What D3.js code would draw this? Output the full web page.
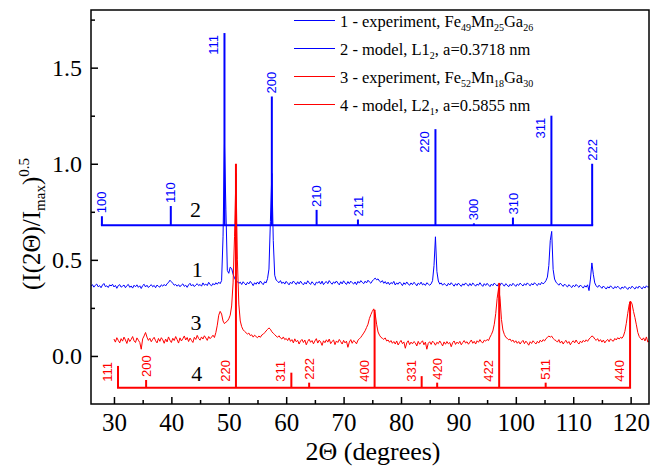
<!DOCTYPE html>
<html>
<head>
<meta charset="utf-8">
<script src="https://cdn.jsdelivr.net/npm/d3@7"></script>
<style>
  body { margin: 0; background: #fff; }
  svg { display: block; }
</style>
</head>
<body>
<div id="chart"></div>
<script>
//
// DATA
//
// experimental scans, one value every 0.25 deg of 2Theta
const scanStep = 0.25
const blueStart = 26
const blueScan = [
    0.362, 0.371, 0.358, 0.368, 0.374, 0.360, 0.366, 0.355, 0.369, 0.377, 0.361, 0.365,
    0.356, 0.370, 0.364, 0.373, 0.359, 0.367, 0.352, 0.366, 0.371, 0.358, 0.363, 0.369,
    0.355, 0.366, 0.372, 0.357, 0.364, 0.353, 0.368, 0.360, 0.370, 0.357, 0.365, 0.351,
    0.366, 0.373, 0.359, 0.368, 0.356, 0.364, 0.371, 0.360, 0.367, 0.355, 0.369, 0.362,
    0.358, 0.370, 0.363, 0.372, 0.364, 0.376, 0.382, 0.394, 0.386, 0.378, 0.368, 0.372,
    0.363, 0.371, 0.360, 0.369, 0.375, 0.362, 0.368, 0.357, 0.370, 0.378, 0.364, 0.372,
    0.361, 0.369, 0.376, 0.366, 0.372, 0.363, 0.380, 0.368, 0.374, 0.366, 0.383, 0.371,
    0.365, 0.377, 0.369, 0.381, 0.373, 0.384, 0.376, 0.392, 0.620, 1.100, 0.760, 0.445,
    0.430, 0.462, 0.455, 0.425, 0.405, 0.392, 0.387, 0.378, 0.384, 0.372, 0.386, 0.377,
    0.369, 0.383, 0.375, 0.388, 0.378, 0.366, 0.381, 0.373, 0.385, 0.374, 0.390, 0.379,
    0.371, 0.386, 0.380, 0.402, 0.452, 0.700, 0.950, 0.600, 0.420, 0.395, 0.388, 0.381,
    0.392, 0.377, 0.385, 0.374, 0.388, 0.379, 0.370, 0.384, 0.376, 0.390, 0.381, 0.372,
    0.386, 0.375, 0.389, 0.378, 0.370, 0.383, 0.374, 0.391, 0.380, 0.372, 0.386, 0.377,
    0.368, 0.384, 0.379, 0.388, 0.374, 0.389, 0.371, 0.382, 0.387, 0.376, 0.392, 0.381,
    0.373, 0.385, 0.378, 0.390, 0.379, 0.370, 0.386, 0.375, 0.391, 0.380, 0.372, 0.387,
    0.376, 0.389, 0.381, 0.374, 0.385, 0.371, 0.388, 0.379, 0.392, 0.383, 0.376, 0.389,
    0.380, 0.394, 0.385, 0.378, 0.390, 0.398, 0.405, 0.396, 0.401, 0.389, 0.383, 0.392,
    0.378, 0.387, 0.374, 0.384, 0.371, 0.382, 0.376, 0.388, 0.369, 0.380, 0.373, 0.385,
    0.377, 0.366, 0.381, 0.372, 0.385, 0.374, 0.368, 0.380, 0.371, 0.383, 0.376, 0.365,
    0.379, 0.372, 0.384, 0.370, 0.376, 0.367, 0.381, 0.374, 0.368, 0.375, 0.392, 0.470,
    0.620, 0.440, 0.390, 0.374, 0.380, 0.368, 0.377, 0.371, 0.364, 0.378, 0.369, 0.381,
    0.372, 0.363, 0.376, 0.367, 0.379, 0.370, 0.362, 0.375, 0.368, 0.380, 0.371, 0.364,
    0.377, 0.366, 0.379, 0.372, 0.363, 0.374, 0.368, 0.381, 0.370, 0.362, 0.376, 0.367,
    0.378, 0.369, 0.361, 0.374, 0.366, 0.379, 0.371, 0.364, 0.375, 0.367, 0.380, 0.372,
    0.363, 0.376, 0.369, 0.360, 0.373, 0.365, 0.378, 0.370, 0.362, 0.374, 0.367, 0.379,
    0.371, 0.364, 0.376, 0.368, 0.380, 0.372, 0.365, 0.377, 0.369, 0.381, 0.373, 0.366,
    0.378, 0.370, 0.383, 0.375, 0.381, 0.392, 0.410, 0.470, 0.600, 0.648, 0.450, 0.400,
    0.384, 0.376, 0.368, 0.379, 0.370, 0.362, 0.374, 0.366, 0.359, 0.371, 0.363, 0.356,
    0.368, 0.360, 0.372, 0.364, 0.357, 0.369, 0.361, 0.353, 0.366, 0.358, 0.370, 0.340,
    0.400, 0.484, 0.425, 0.380, 0.365, 0.357, 0.368, 0.360, 0.352, 0.364, 0.356, 0.348,
    0.360, 0.353, 0.365, 0.357, 0.349, 0.361, 0.354, 0.363, 0.355, 0.347, 0.359, 0.352,
    0.362, 0.354, 0.346, 0.358, 0.351, 0.363, 0.355, 0.348, 0.360, 0.352, 0.364, 0.356,
    0.349, 0.361, 0.353, 0.365, 0.357, 0.362
]
const redStart = 30
const redScan = [
    0.088, 0.072, 0.095, 0.081, 0.068, 0.090, 0.077, 0.098, 0.083, 0.065, 0.092, 0.075,
    0.086, 0.101, 0.079, 0.070, 0.094, 0.082, 0.070, 0.035, 0.089, 0.104, 0.122, 0.098,
    0.081, 0.092, 0.074, 0.087, 0.097, 0.079, 0.068, 0.091, 0.076, 0.095, 0.084, 0.066,
    0.088, 0.073, 0.099, 0.082, 0.070, 0.092, 0.080, 0.101, 0.085, 0.067, 0.094, 0.078,
    0.090, 0.104, 0.083, 0.096, 0.075, 0.093, 0.081, 0.070, 0.097, 0.086, 0.107, 0.091,
    0.082, 0.099, 0.088, 0.105, 0.094, 0.081, 0.101, 0.090, 0.098, 0.108, 0.096, 0.122,
    0.160, 0.212, 0.232, 0.218, 0.182, 0.168, 0.176, 0.181, 0.193, 0.212, 0.260, 0.380,
    0.620, 0.950, 0.500, 0.270, 0.182, 0.152, 0.136, 0.128, 0.121, 0.114, 0.119, 0.106,
    0.110, 0.098, 0.108, 0.101, 0.095, 0.104, 0.097, 0.109, 0.113, 0.121, 0.130, 0.138,
    0.146, 0.139, 0.126, 0.118, 0.111, 0.103, 0.097, 0.105, 0.094, 0.088, 0.099, 0.085,
    0.091, 0.080, 0.094, 0.076, 0.085, 0.068, 0.089, 0.074, 0.081, 0.062, 0.078, 0.086,
    0.070, 0.083, 0.058, 0.076, 0.087, 0.071, 0.080, 0.063, 0.078, 0.090, 0.067, 0.082,
    0.073, 0.055, 0.079, 0.069, 0.084, 0.072, 0.088, 0.064, 0.076, 0.083, 0.059, 0.078,
    0.070, 0.086, 0.074, 0.062, 0.081, 0.068, 0.077, 0.045, 0.072, 0.085, 0.066, 0.080,
    0.074, 0.063, 0.082, 0.089, 0.097, 0.108, 0.119, 0.131, 0.148, 0.165, 0.195, 0.215,
    0.232, 0.245, 0.220, 0.165, 0.125, 0.108, 0.097, 0.092, 0.086, 0.094, 0.078, 0.083,
    0.071, 0.080, 0.066, 0.075, 0.062, 0.078, 0.057, 0.070, 0.081, 0.064, 0.073, 0.040,
    0.068, 0.079, 0.059, 0.072, 0.063, 0.075, 0.068, 0.052, 0.076, 0.061, 0.070, 0.079,
    0.058, 0.072, 0.035, 0.066, 0.074, 0.060, 0.077, 0.069, 0.056, 0.071, 0.064, 0.078,
    0.066, 0.052, 0.073, 0.061, 0.075, 0.063, 0.070, 0.048, 0.069, 0.078, 0.060, 0.072,
    0.064, 0.076, 0.058, 0.070, 0.080, 0.067, 0.074, 0.061, 0.072, 0.083, 0.066, 0.076,
    0.062, 0.079, 0.071, 0.085, 0.073, 0.068, 0.082, 0.077, 0.086, 0.080, 0.098, 0.112,
    0.130, 0.165, 0.220, 0.300, 0.352, 0.300, 0.190, 0.135, 0.112, 0.097, 0.092, 0.084,
    0.088, 0.076, 0.083, 0.070, 0.079, 0.066, 0.075, 0.062, 0.073, 0.081, 0.064, 0.077,
    0.068, 0.056, 0.074, 0.065, 0.079, 0.070, 0.062, 0.076, 0.067, 0.082, 0.073, 0.085,
    0.078, 0.090, 0.096, 0.104, 0.098, 0.103, 0.091, 0.084, 0.080, 0.072, 0.085, 0.067,
    0.077, 0.062, 0.074, 0.081, 0.066, 0.075, 0.058, 0.071, 0.079, 0.068, 0.083, 0.070,
    0.062, 0.077, 0.069, 0.081, 0.073, 0.084, 0.076, 0.088, 0.095, 0.104, 0.100, 0.088,
    0.081, 0.090, 0.076, 0.085, 0.072, 0.083, 0.068, 0.079, 0.086, 0.074, 0.089, 0.080,
    0.077, 0.091, 0.083, 0.095, 0.088, 0.097, 0.092, 0.104, 0.128, 0.170, 0.222, 0.268,
    0.285, 0.270, 0.232, 0.200, 0.162, 0.122, 0.101, 0.090, 0.083, 0.094, 0.078, 0.099,
    0.072, 0.080
]

// model reflections: L1_2 (blue, curve 2) and L2_1 (red, curve 4)
const blueHkl = ['100', '110', '111', '200', '210', '211', '220', '300', '310', '311', '222']
const blueAngle = [27.9, 39.9, 49.25, 57.5, 65.3, 72.5, 86.0, 92.7, 99.5, 106.2, 113.3]
const blueAmp = [0.047, 0.10, 1.0, 0.67, 0.08, 0.03, 0.50, 0.01, 0.04, 0.57, 0.32]
const blueBase = 0.68
const redHkl = ['111', '200', '220', '311', '222', '400', '331', '420', '422', '511', '440']
const redAngle = [30.7, 35.6, 51.25, 60.9, 64.0, 75.4, 83.6, 86.3, 97.1, 105.2, 119.9]
const redAmp = [0.113, 0.04, 1.165, 0.078, 0.026, 0.405, 0.06, 0.026, 0.545, 0.026, 0.448]
const redBase = -0.165

// axes
const xMajor = [30, 40, 50, 60, 70, 80, 90, 100, 110, 120]
const xMinor = [35, 45, 55, 65, 75, 85, 95, 105, 115]
const yMajor = [0, 0.5, 1.0, 1.5]
const yMinor = [0.25, 0.75, 1.25, 1.75]

// legend entries, split in [text, isSubscript] runs
const legendColors = ['#0000ff', '#0000ff', '#ff0000', '#ff0000']
const legendRuns = [
    [['1 - experiment, Fe', 0], ['49', 1], ['Mn', 0], ['25', 1], ['Ga', 0], ['26', 1]],
    [['2 - model, L1', 0], ['2', 1], [', a=0.3718 nm', 0]],
    [['3 - experiment, Fe', 0], ['52', 1], ['Mn', 0], ['18', 1], ['Ga', 0], ['30', 1]],
    [['4 - model, L2', 0], ['1', 1], [', a=0.5855 nm', 0]],
]

//
// GLOBALS
//
const width = 654
const height = 468
const margin = { top: 10, right: 5, bottom: 64, left: 91 }
const serif = '"Liberation Serif", "Times New Roman", serif'
const sans = '"Liberation Sans", Arial, sans-serif'

const x = d3.scaleLinear().domain([26, 123.2]).range([margin.left, width - margin.right])
const y = d3.scaleLinear().domain([-0.25, 1.8]).range([height - margin.bottom, margin.top])

const svg = d3.select('#chart').append('svg').attr('width', width).attr('height', height)

svg.append('clipPath').attr('id', 'plot-clip')
    .append('rect')
    .attr('x', x.range()[0]).attr('y', y.range()[1])
    .attr('width', x.range()[1] - x.range()[0]).attr('height', y.range()[0] - y.range()[1])

const plot = svg.append('g').attr('clip-path', 'url(#plot-clip)')

//
// experimental curves
//
const plotScan = (start, values, color) => {
    const line = d3.line()
        .x((d, i) => x(start + i * scanStep))
        .y((d) => y(d))
    plot.append('path')
        .datum(values)
        .attr('d', line)
        .attr('fill', 'none')
        .attr('stroke', color)
        .attr('stroke-width', 1)
        .attr('stroke-linejoin', 'round')
}
plotScan(blueStart, blueScan, '#0000ff')
plotScan(redStart, redScan, '#ff0000')

//
// model stick patterns
//
const plotModel = (angles, amps, base, color) => {
    const g = plot.append('g').attr('stroke', color).attr('stroke-width', 2)
    g.append('line')
        .attr('x1', x(angles[0])).attr('x2', x(angles[angles.length - 1]))
        .attr('y1', y(base)).attr('y2', y(base))
        .attr('stroke-linecap', 'square')
    g.selectAll('line.stick')
        .data(angles)
        .join('line')
        .attr('class', 'stick')
        .attr('x1', (d) => x(d)).attr('x2', (d) => x(d))
        .attr('y1', y(base))
        .attr('y2', (d, i) => y(base + amps[i]))
}
plotModel(blueAngle, blueAmp, blueBase, '#0000ff')
plotModel(redAngle, redAmp, redBase, '#ff0000')

//
// frame and axes
//
svg.append('rect')
    .attr('x', x.range()[0]).attr('y', y.range()[1])
    .attr('width', x.range()[1] - x.range()[0]).attr('height', y.range()[0] - y.range()[1])
    .attr('fill', 'none').attr('stroke', '#000').attr('stroke-width', 1.5)

const styleAxis = (size) => (g) => {
    g.select('.domain').remove()
    g.selectAll('line').attr('stroke', '#000').attr('stroke-width', 1.5)
    g.selectAll('text').attr('font-family', serif).attr('font-size', size).attr('fill', '#000')
}

svg.append('g')
    .attr('transform', `translate(0,${y.range()[0]})`)
    .call(d3.axisBottom(x).tickValues(xMajor).tickSize(-7).tickPadding(9).tickFormat(d3.format('d')))
    .call(styleAxis(25))
svg.append('g')
    .attr('transform', `translate(0,${y.range()[0]})`)
    .call(d3.axisBottom(x).tickValues(xMinor).tickSize(-4).tickFormat(''))
    .call(styleAxis(25))
svg.append('g')
    .attr('transform', `translate(${x.range()[0]},0)`)
    .call(d3.axisLeft(y).tickValues(yMajor).tickSize(-7).tickPadding(9).tickFormat(d3.format('.1f')))
    .call(styleAxis(24))
svg.append('g')
    .attr('transform', `translate(${x.range()[0]},0)`)
    .call(d3.axisLeft(y).tickValues(yMinor).tickSize(-4).tickFormat(''))
    .call(styleAxis(24))

// axis titles
svg.append('text')
    .attr('x', (x.range()[0] + x.range()[1]) / 2 + 3).attr('y', 460)
    .attr('text-anchor', 'middle')
    .attr('font-family', serif).attr('font-size', 26)
    .text('2Θ (degrees)')

const yTitle = svg.append('text')
    .attr('transform', 'translate(40,224) rotate(-90)')
    .attr('text-anchor', 'middle')
    .attr('font-family', serif).attr('font-size', 25)
yTitle.append('tspan').text('(I(2Θ)/I')
yTitle.append('tspan').attr('dy', 5).attr('font-size', 15).text('max')
yTitle.append('tspan').attr('dy', -5).text(')')
yTitle.append('tspan').attr('dy', -11).attr('font-size', 15).text('0.5')

//
// legend
//
const legend = svg.append('g')
legendRuns.forEach((runs, i) => {
    const ly = 20.5 + i * 28
    legend.append('line')
        .attr('x1', 294).attr('x2', 335).attr('y1', ly).attr('y2', ly)
        .attr('stroke', legendColors[i]).attr('stroke-width', 1)
    const t = legend.append('text')
        .attr('x', 340).attr('y', ly + 6)
        .attr('font-family', serif).attr('font-size', 16.5)
    let shifted = false
    runs.forEach(([txt, sub]) => {
        const s = t.append('tspan').text(txt)
        if (sub && !shifted) s.attr('dy', 4).attr('font-size', 10)
        else if (sub) s.attr('font-size', 10)
        if (!sub && shifted) s.attr('dy', -4)
        shifted = !!sub
    })
})
const legendBox = legend.node().getBBox()

//
// reflection labels
//
const labelGroup = svg.append('g').attr('font-family', sans).attr('font-size', 13)

// blue: above the stick, unless it would crowd the legend or the frame
blueHkl.forEach((hkl, i) => {
    const px = x(blueAngle[i])
    const top = y(blueBase + blueAmp[i])
    const pad = 14
    const hitsLegend = px + 5 > legendBox.x - pad && px - 5 < legendBox.x + legendBox.width + pad &&
        top - 25 < legendBox.y + legendBox.height + pad
    const hitsTop = top - 25 < y.range()[1]
    const t = labelGroup.append('text').attr('fill', '#0000ff').text(hkl)
    if (hitsLegend || hitsTop) {
        t.attr('transform', `translate(${px - 6},${top + 2}) rotate(-90)`).attr('text-anchor', 'end')
    } else {
        t.attr('transform', `translate(${px},${top - 3}) rotate(-90)`).attr('dy', '0.35em')
    }
})

// red: labels stand on the baseline, left of the stick when the stick is taller
redHkl.forEach((hkl, i) => {
    const px = x(redAngle[i])
    const top = y(redBase + redAmp[i])
    const foot = y(redBase) - 9
    const t = labelGroup.append('text').attr('fill', '#ff0000').text(hkl)
    if (top < foot) {
        t.attr('transform', `translate(${px - 6},${y(redBase) - 6}) rotate(-90)`)
    } else {
        t.attr('transform', `translate(${px},${top - 3}) rotate(-90)`).attr('dy', '0.35em')
    }
})

//
// curve numbers
//
const tags = [['1', 44.5, 0.41], ['2', 44.2, 0.724], ['3', 44.3, 0.135], ['4', 44.4, -0.13]]
svg.append('g')
    .selectAll('text')
    .data(tags)
    .join('text')
    .attr('x', (d) => x(d[1])).attr('y', (d) => y(d[2]))
    .attr('text-anchor', 'middle')
    .attr('font-family', serif).attr('font-size', 22)
    .text((d) => d[0])
</script>
</body>
</html>
